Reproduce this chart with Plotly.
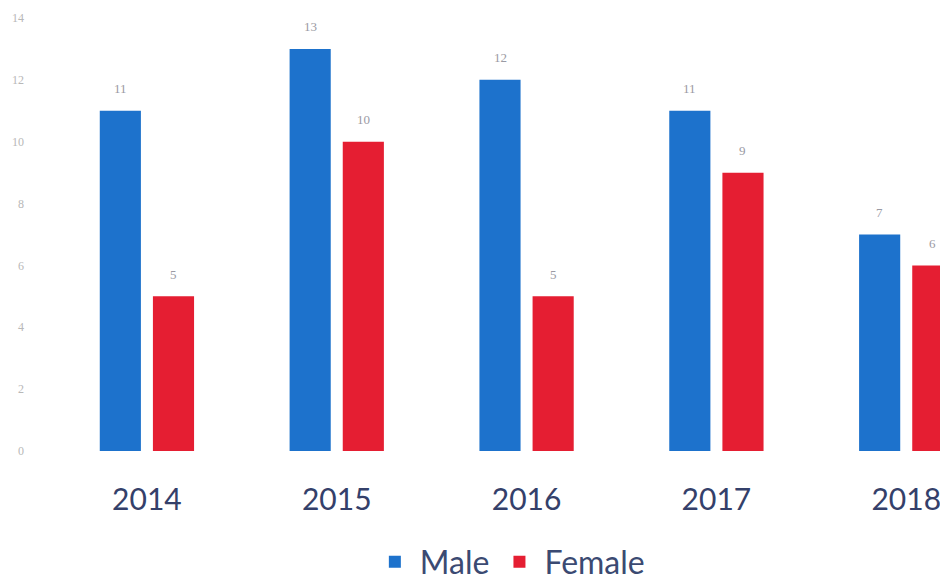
import plotly.graph_objects as go

years = ["2014", "2015", "2016", "2017", "2018"]
male = [11, 13, 12, 11, 7]
female = [5, 10, 5, 9, 6]
y_ticks = [0, 2, 4, 6, 8, 10, 12, 14]

fig = go.Figure()
fig.add_trace(go.Bar(
    name="Male", x=years, y=male,
    marker=dict(color="#1D72CC", line=dict(width=0)),
))
fig.add_trace(go.Bar(
    name="Female", x=years, y=female,
    marker=dict(color="#E51E32", line=dict(width=0)),
))

label_font = dict(size=13, color="#9a9aa4", family="Liberation Serif")
for series, dx in ((male, -26.5), (female, 26.5)):
    for i, v in enumerate(series):
        fig.add_annotation(x=i, y=v, xref="x", yref="y", text=str(v),
                           showarrow=False, xshift=dx, yshift=22,
                           font=label_font)

fig.update_layout(
    width=940, height=574,
    margin=dict(l=44, r=0, t=10, b=131, autoexpand=False),
    paper_bgcolor="white", plot_bgcolor="white",
    barmode="group", bargap=0.44, bargroupgap=0.226,
    showlegend=True,
    legend=dict(orientation="h", x=0.511, xanchor="center", y=-0.193, yanchor="top",
                font=dict(size=32, color="#3b4a72", family="Lato"),
                traceorder="normal", itemwidth=40),
    xaxis=dict(type="category", range=[-0.5, 4.22], showgrid=False, zeroline=False,
               showline=False, ticks="",
               tickfont=dict(size=30, color="#34406a", family="Lato"),
               ticklabelstandoff=28, automargin=False),
    yaxis=dict(range=[0, 14], tickvals=y_ticks, showgrid=False, zeroline=False,
               showline=False, ticks="",
               tickfont=dict(size=12, color="#b8b8b8", family="Liberation Serif"),
               ticklabelstandoff=27, automargin=False),
)

fig.write_html("out.html")
